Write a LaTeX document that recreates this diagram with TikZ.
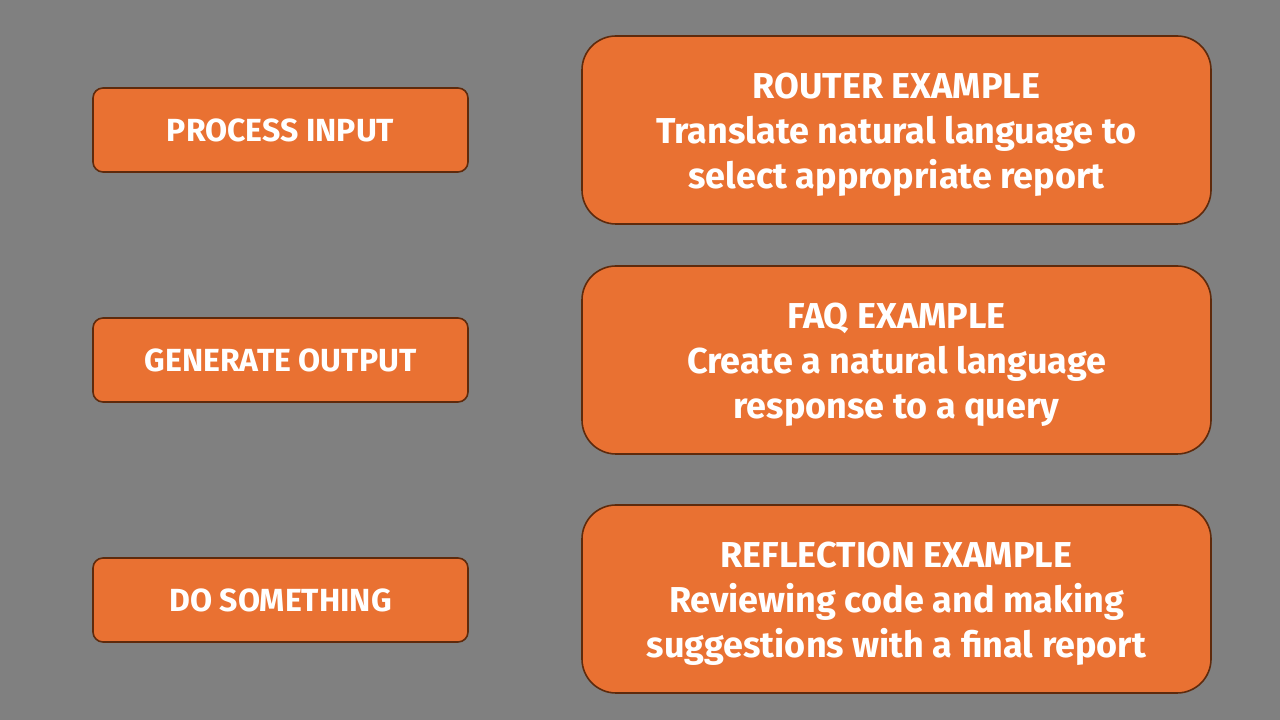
\documentclass[tikz,border=0pt]{standalone}
\usepackage{fontspec}
\setmainfont{Fira Sans}
\begin{document}
\definecolor{bggray}{HTML}{808080}
\definecolor{boxorange}{HTML}{E97132}
\definecolor{boxedge}{HTML}{5E2A0C}
% three centred lines, set slightly below the middle of the box
\newcommand{\examplelines}[3]{\parbox{629pt}{\vspace*{10pt}\centering #1\\#2\\#3}}
% one line of capitals, centred on the box
\newcommand{\steplabel}[1]{\raisebox{0pt}[28pt][4pt]{#1}}
\begin{tikzpicture}[x=1pt,y=1pt,
  smallbox/.style={draw=boxedge, line width=1.6pt, fill=boxorange, rounded corners=10pt,
    minimum width=375pt, minimum height=84pt, text=white, inner sep=0pt,
    font=\fontsize{32}{36}\selectfont\bfseries},
  bigbox/.style={draw=boxedge, line width=1.6pt, fill=boxorange, rounded corners=34pt,
    minimum width=629pt, minimum height=188pt, text=white, inner sep=0pt, align=center,
    font=\fontsize{36}{45}\selectfont\bfseries}]
\fill[bggray] (0,0) rectangle (1280,720);
\useasboundingbox (0,0) rectangle (1280,720);
% left column: process steps
\node[smallbox] (process) at (280.5,590) {\steplabel{PROCESS INPUT}};
\node[smallbox] (generate) at (280.5,360) {\steplabel{GENERATE OUTPUT}};
\node[smallbox] (dosomething) at (280.5,120) {\steplabel{DO SOMETHING}};
% right column: examples
\node[bigbox] (router) at (896.5,590) {\examplelines{ROUTER EXAMPLE}{Translate natural language to}{select appropriate report}};
\node[bigbox] (faq) at (896.5,360) {\examplelines{FAQ EXAMPLE}{Create a natural language}{response to a query}};
\node[bigbox] (reflection) at (896.5,121) {\examplelines{REFLECTION EXAMPLE}{Reviewing code and making}{suggestions with a final report}};
\end{tikzpicture}
\end{document}
